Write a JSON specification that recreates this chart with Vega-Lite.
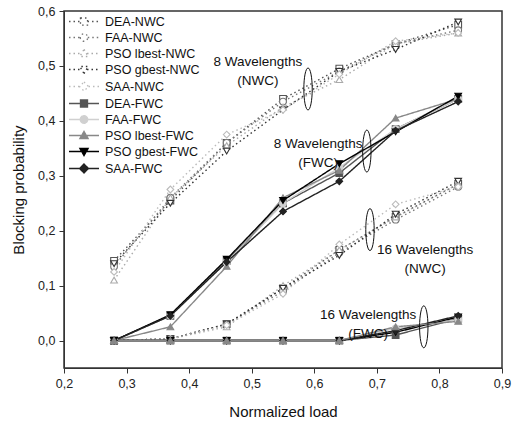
{
  "$schema": "https://vega.github.io/schema/vega-lite/v6.json",
  "width": 438,
  "height": 357,
  "autosize": {"type": "none"},
  "padding": {"left": 64, "top": 11, "right": 10, "bottom": 56},
  "background": "white",
  "config": {
    "font": "Liberation Sans",
    "view": {"stroke": "#333", "strokeWidth": 1.5},
    "axis": {
      "grid": false,
      "tickSize": 5,
      "tickColor": "#333",
      "domainColor": "#333",
      "labelFontSize": 12.5,
      "labelColor": "#222",
      "titleFontSize": 15,
      "titleFontWeight": "normal",
      "titleColor": "#111",
      "labelFlush": false,
      "labelOverlap": false
    },
    "legend": {
      "orient": "none",
      "legendX": 11.5,
      "legendY": 2,
      "padding": 0,
      "symbolSize": 225,
      "symbolStrokeWidth": 1.3,
      "labelFontSize": 12.5,
      "labelColor": "#111",
      "labelOffset": 12.5,
      "rowPadding": 1,
      "title": null
    }
  },
  "resolve": {"scale": {"shape": "independent", "stroke": "independent", "fill": "independent", "strokeDash": "independent"}},
  "data": {
    "values": [
      {"s": "DEA-NWC", "g": "8", "x": 0.28, "y": 0.145},
      {"s": "DEA-NWC", "g": "8", "x": 0.37, "y": 0.255},
      {"s": "DEA-NWC", "g": "8", "x": 0.46, "y": 0.36},
      {"s": "DEA-NWC", "g": "8", "x": 0.55, "y": 0.44},
      {"s": "DEA-NWC", "g": "8", "x": 0.64, "y": 0.495},
      {"s": "DEA-NWC", "g": "8", "x": 0.73, "y": 0.54},
      {"s": "DEA-NWC", "g": "8", "x": 0.83, "y": 0.575},
      {"s": "FAA-NWC", "g": "8", "x": 0.28, "y": 0.135},
      {"s": "FAA-NWC", "g": "8", "x": 0.37, "y": 0.26},
      {"s": "FAA-NWC", "g": "8", "x": 0.46, "y": 0.36},
      {"s": "FAA-NWC", "g": "8", "x": 0.55, "y": 0.435},
      {"s": "FAA-NWC", "g": "8", "x": 0.64, "y": 0.49},
      {"s": "FAA-NWC", "g": "8", "x": 0.73, "y": 0.54},
      {"s": "FAA-NWC", "g": "8", "x": 0.83, "y": 0.565},
      {"s": "PSO lbest-NWC", "g": "8", "x": 0.28, "y": 0.11},
      {"s": "PSO lbest-NWC", "g": "8", "x": 0.37, "y": 0.26},
      {"s": "PSO lbest-NWC", "g": "8", "x": 0.46, "y": 0.355},
      {"s": "PSO lbest-NWC", "g": "8", "x": 0.55, "y": 0.425},
      {"s": "PSO lbest-NWC", "g": "8", "x": 0.64, "y": 0.475},
      {"s": "PSO lbest-NWC", "g": "8", "x": 0.73, "y": 0.54},
      {"s": "PSO lbest-NWC", "g": "8", "x": 0.83, "y": 0.56},
      {"s": "PSO gbest-NWC", "g": "8", "x": 0.28, "y": 0.14},
      {"s": "PSO gbest-NWC", "g": "8", "x": 0.37, "y": 0.25},
      {"s": "PSO gbest-NWC", "g": "8", "x": 0.46, "y": 0.345},
      {"s": "PSO gbest-NWC", "g": "8", "x": 0.55, "y": 0.42},
      {"s": "PSO gbest-NWC", "g": "8", "x": 0.64, "y": 0.49},
      {"s": "PSO gbest-NWC", "g": "8", "x": 0.73, "y": 0.53},
      {"s": "PSO gbest-NWC", "g": "8", "x": 0.83, "y": 0.58},
      {"s": "SAA-NWC", "g": "8", "x": 0.28, "y": 0.125},
      {"s": "SAA-NWC", "g": "8", "x": 0.37, "y": 0.275},
      {"s": "SAA-NWC", "g": "8", "x": 0.46, "y": 0.375},
      {"s": "SAA-NWC", "g": "8", "x": 0.55, "y": 0.42},
      {"s": "SAA-NWC", "g": "8", "x": 0.64, "y": 0.485},
      {"s": "SAA-NWC", "g": "8", "x": 0.73, "y": 0.545},
      {"s": "SAA-NWC", "g": "8", "x": 0.83, "y": 0.56},
      {"s": "DEA-NWC", "g": "16", "x": 0.28, "y": 0.0},
      {"s": "DEA-NWC", "g": "16", "x": 0.37, "y": 0.003},
      {"s": "DEA-NWC", "g": "16", "x": 0.46, "y": 0.03},
      {"s": "DEA-NWC", "g": "16", "x": 0.55, "y": 0.095},
      {"s": "DEA-NWC", "g": "16", "x": 0.64, "y": 0.165},
      {"s": "DEA-NWC", "g": "16", "x": 0.73, "y": 0.225},
      {"s": "DEA-NWC", "g": "16", "x": 0.83, "y": 0.285},
      {"s": "FAA-NWC", "g": "16", "x": 0.28, "y": 0.0},
      {"s": "FAA-NWC", "g": "16", "x": 0.37, "y": 0.003},
      {"s": "FAA-NWC", "g": "16", "x": 0.46, "y": 0.03},
      {"s": "FAA-NWC", "g": "16", "x": 0.55, "y": 0.09},
      {"s": "FAA-NWC", "g": "16", "x": 0.64, "y": 0.16},
      {"s": "FAA-NWC", "g": "16", "x": 0.73, "y": 0.22},
      {"s": "FAA-NWC", "g": "16", "x": 0.83, "y": 0.28},
      {"s": "PSO lbest-NWC", "g": "16", "x": 0.28, "y": 0.0},
      {"s": "PSO lbest-NWC", "g": "16", "x": 0.37, "y": 0.003},
      {"s": "PSO lbest-NWC", "g": "16", "x": 0.46, "y": 0.025},
      {"s": "PSO lbest-NWC", "g": "16", "x": 0.55, "y": 0.1},
      {"s": "PSO lbest-NWC", "g": "16", "x": 0.64, "y": 0.165},
      {"s": "PSO lbest-NWC", "g": "16", "x": 0.73, "y": 0.225},
      {"s": "PSO lbest-NWC", "g": "16", "x": 0.83, "y": 0.285},
      {"s": "PSO gbest-NWC", "g": "16", "x": 0.28, "y": 0.0},
      {"s": "PSO gbest-NWC", "g": "16", "x": 0.37, "y": 0.003},
      {"s": "PSO gbest-NWC", "g": "16", "x": 0.46, "y": 0.03},
      {"s": "PSO gbest-NWC", "g": "16", "x": 0.55, "y": 0.095},
      {"s": "PSO gbest-NWC", "g": "16", "x": 0.64, "y": 0.155},
      {"s": "PSO gbest-NWC", "g": "16", "x": 0.73, "y": 0.23},
      {"s": "PSO gbest-NWC", "g": "16", "x": 0.83, "y": 0.29},
      {"s": "SAA-NWC", "g": "16", "x": 0.28, "y": 0.0},
      {"s": "SAA-NWC", "g": "16", "x": 0.37, "y": 0.003},
      {"s": "SAA-NWC", "g": "16", "x": 0.46, "y": 0.028},
      {"s": "SAA-NWC", "g": "16", "x": 0.55, "y": 0.085},
      {"s": "SAA-NWC", "g": "16", "x": 0.64, "y": 0.175},
      {"s": "SAA-NWC", "g": "16", "x": 0.73, "y": 0.248},
      {"s": "SAA-NWC", "g": "16", "x": 0.83, "y": 0.28},
      {"s": "DEA-FWC", "g": "8", "x": 0.28, "y": 0.0},
      {"s": "DEA-FWC", "g": "8", "x": 0.37, "y": 0.045},
      {"s": "DEA-FWC", "g": "8", "x": 0.46, "y": 0.145},
      {"s": "DEA-FWC", "g": "8", "x": 0.55, "y": 0.25},
      {"s": "DEA-FWC", "g": "8", "x": 0.64, "y": 0.305},
      {"s": "DEA-FWC", "g": "8", "x": 0.73, "y": 0.385},
      {"s": "DEA-FWC", "g": "8", "x": 0.83, "y": 0.44},
      {"s": "FAA-FWC", "g": "8", "x": 0.28, "y": 0.0},
      {"s": "FAA-FWC", "g": "8", "x": 0.37, "y": 0.045},
      {"s": "FAA-FWC", "g": "8", "x": 0.46, "y": 0.143},
      {"s": "FAA-FWC", "g": "8", "x": 0.55, "y": 0.25},
      {"s": "FAA-FWC", "g": "8", "x": 0.64, "y": 0.315},
      {"s": "FAA-FWC", "g": "8", "x": 0.73, "y": 0.385},
      {"s": "FAA-FWC", "g": "8", "x": 0.83, "y": 0.44},
      {"s": "PSO lbest-FWC", "g": "8", "x": 0.28, "y": 0.0},
      {"s": "PSO lbest-FWC", "g": "8", "x": 0.37, "y": 0.025},
      {"s": "PSO lbest-FWC", "g": "8", "x": 0.46, "y": 0.135},
      {"s": "PSO lbest-FWC", "g": "8", "x": 0.55, "y": 0.26},
      {"s": "PSO lbest-FWC", "g": "8", "x": 0.64, "y": 0.31},
      {"s": "PSO lbest-FWC", "g": "8", "x": 0.73, "y": 0.405},
      {"s": "PSO lbest-FWC", "g": "8", "x": 0.83, "y": 0.44},
      {"s": "PSO gbest-FWC", "g": "8", "x": 0.28, "y": 0.0},
      {"s": "PSO gbest-FWC", "g": "8", "x": 0.37, "y": 0.047},
      {"s": "PSO gbest-FWC", "g": "8", "x": 0.46, "y": 0.148},
      {"s": "PSO gbest-FWC", "g": "8", "x": 0.55, "y": 0.255},
      {"s": "PSO gbest-FWC", "g": "8", "x": 0.64, "y": 0.322},
      {"s": "PSO gbest-FWC", "g": "8", "x": 0.73, "y": 0.38},
      {"s": "PSO gbest-FWC", "g": "8", "x": 0.83, "y": 0.445},
      {"s": "SAA-FWC", "g": "8", "x": 0.28, "y": 0.0},
      {"s": "SAA-FWC", "g": "8", "x": 0.37, "y": 0.045},
      {"s": "SAA-FWC", "g": "8", "x": 0.46, "y": 0.143},
      {"s": "SAA-FWC", "g": "8", "x": 0.55, "y": 0.235},
      {"s": "SAA-FWC", "g": "8", "x": 0.64, "y": 0.29},
      {"s": "SAA-FWC", "g": "8", "x": 0.73, "y": 0.382},
      {"s": "SAA-FWC", "g": "8", "x": 0.83, "y": 0.435},
      {"s": "DEA-FWC", "g": "16", "x": 0.28, "y": 0.0},
      {"s": "DEA-FWC", "g": "16", "x": 0.37, "y": 0.0},
      {"s": "DEA-FWC", "g": "16", "x": 0.46, "y": 0.0},
      {"s": "DEA-FWC", "g": "16", "x": 0.55, "y": 0.0},
      {"s": "DEA-FWC", "g": "16", "x": 0.64, "y": 0.0},
      {"s": "DEA-FWC", "g": "16", "x": 0.73, "y": 0.01},
      {"s": "DEA-FWC", "g": "16", "x": 0.83, "y": 0.04},
      {"s": "FAA-FWC", "g": "16", "x": 0.28, "y": 0.0},
      {"s": "FAA-FWC", "g": "16", "x": 0.37, "y": 0.0},
      {"s": "FAA-FWC", "g": "16", "x": 0.46, "y": 0.0},
      {"s": "FAA-FWC", "g": "16", "x": 0.55, "y": 0.0},
      {"s": "FAA-FWC", "g": "16", "x": 0.64, "y": 0.0},
      {"s": "FAA-FWC", "g": "16", "x": 0.73, "y": 0.022},
      {"s": "FAA-FWC", "g": "16", "x": 0.83, "y": 0.038},
      {"s": "PSO gbest-FWC", "g": "16", "x": 0.28, "y": 0.0},
      {"s": "PSO gbest-FWC", "g": "16", "x": 0.37, "y": 0.0},
      {"s": "PSO gbest-FWC", "g": "16", "x": 0.46, "y": 0.0},
      {"s": "PSO gbest-FWC", "g": "16", "x": 0.55, "y": 0.0},
      {"s": "PSO gbest-FWC", "g": "16", "x": 0.64, "y": 0.0},
      {"s": "PSO gbest-FWC", "g": "16", "x": 0.73, "y": 0.015},
      {"s": "PSO gbest-FWC", "g": "16", "x": 0.83, "y": 0.043},
      {"s": "SAA-FWC", "g": "16", "x": 0.28, "y": 0.0},
      {"s": "SAA-FWC", "g": "16", "x": 0.37, "y": 0.0},
      {"s": "SAA-FWC", "g": "16", "x": 0.46, "y": 0.0},
      {"s": "SAA-FWC", "g": "16", "x": 0.55, "y": 0.0},
      {"s": "SAA-FWC", "g": "16", "x": 0.64, "y": 0.0},
      {"s": "SAA-FWC", "g": "16", "x": 0.73, "y": 0.018},
      {"s": "SAA-FWC", "g": "16", "x": 0.83, "y": 0.045},
      {"s": "PSO lbest-FWC", "g": "16", "x": 0.28, "y": 0.0},
      {"s": "PSO lbest-FWC", "g": "16", "x": 0.37, "y": 0.0},
      {"s": "PSO lbest-FWC", "g": "16", "x": 0.46, "y": 0.0},
      {"s": "PSO lbest-FWC", "g": "16", "x": 0.55, "y": 0.0},
      {"s": "PSO lbest-FWC", "g": "16", "x": 0.64, "y": 0.0},
      {"s": "PSO lbest-FWC", "g": "16", "x": 0.73, "y": 0.025},
      {"s": "PSO lbest-FWC", "g": "16", "x": 0.83, "y": 0.035}
    ]
  },
  "layer": [
    {
      "mark": {"type": "line", "strokeWidth": 1.4},
      "encoding": {
        "x": {
          "field": "x", "type": "quantitative",
          "scale": {"domain": [0.2, 0.9], "nice": false, "zero": false},
          "axis": {
            "title": "Normalized load",
            "values": [0.2, 0.25, 0.3, 0.35, 0.4, 0.45, 0.5, 0.55, 0.6, 0.65, 0.7, 0.75, 0.8, 0.85, 0.9],
            "labelExpr": "round(datum.value*100) % 10 == 0 ? replace(format(datum.value, '.1f'), '.', ',') : ''",
            "labelPadding": 4,
            "titlePadding": 15
          }
        },
        "y": {
          "field": "y", "type": "quantitative",
          "scale": {"domain": [-0.05, 0.6], "nice": false, "zero": false},
          "axis": {
            "title": "Blocking probability",
            "values": [0, 0.05, 0.1, 0.15, 0.2, 0.25, 0.3, 0.35, 0.4, 0.45, 0.5, 0.55, 0.6],
            "labelExpr": "round(datum.value*100) % 10 == 0 ? replace(format(datum.value, '.1f'), '.', ',') : ''",
            "labelPadding": 4,
            "titlePadding": 11
          }
        },
        "stroke": {
          "field": "s", "type": "nominal", "legend": null,
          "scale": {
            "domain": ["DEA-NWC", "FAA-NWC", "PSO lbest-NWC", "PSO gbest-NWC", "SAA-NWC", "DEA-FWC", "FAA-FWC", "PSO lbest-FWC", "PSO gbest-FWC", "SAA-FWC"],
            "range": ["#555555", "#777777", "#aaaaaa", "#333333", "#bbbbbb", "#555555", "#d0d0d0", "#888888", "#000000", "#222222"]
          }
        },
        "strokeDash": {
          "field": "s", "type": "nominal", "legend": null,
          "scale": {
            "domain": ["DEA-NWC", "FAA-NWC", "PSO lbest-NWC", "PSO gbest-NWC", "SAA-NWC", "DEA-FWC", "FAA-FWC", "PSO lbest-FWC", "PSO gbest-FWC", "SAA-FWC"],
            "range": [[1.5, 3], [1.5, 3], [1.5, 3], [1.5, 3], [1.5, 3], [1, 0], [1, 0], [1, 0], [1, 0], [1, 0]]
          }
        },
        "detail": {"field": "g", "type": "nominal"}
      }
    },
    {
      "mark": {"type": "point", "size": 45, "strokeWidth": 1.1, "opacity": 1},
      "encoding": {
        "x": {"field": "x", "type": "quantitative"},
        "y": {"field": "y", "type": "quantitative"},
        "stroke": {
          "field": "s", "type": "nominal", "legend": null,
          "scale": {
            "domain": ["DEA-NWC", "FAA-NWC", "PSO lbest-NWC", "PSO gbest-NWC", "SAA-NWC", "DEA-FWC", "FAA-FWC", "PSO lbest-FWC", "PSO gbest-FWC", "SAA-FWC"],
            "range": ["#555555", "#777777", "#aaaaaa", "#333333", "#bbbbbb", "#555555", "#d0d0d0", "#888888", "#000000", "#222222"]
          }
        },
        "fill": {
          "field": "s", "type": "nominal", "legend": null,
          "scale": {
            "domain": ["DEA-NWC", "FAA-NWC", "PSO lbest-NWC", "PSO gbest-NWC", "SAA-NWC", "DEA-FWC", "FAA-FWC", "PSO lbest-FWC", "PSO gbest-FWC", "SAA-FWC"],
            "range": ["#ffffff", "#ffffff", "#ffffff", "#ffffff", "#ffffff", "#555555", "#d0d0d0", "#888888", "#000000", "#222222"]
          }
        },
        "shape": {
          "field": "s", "type": "nominal", "legend": null,
          "scale": {
            "domain": ["DEA-NWC", "FAA-NWC", "PSO lbest-NWC", "PSO gbest-NWC", "SAA-NWC", "DEA-FWC", "FAA-FWC", "PSO lbest-FWC", "PSO gbest-FWC", "SAA-FWC"],
            "range": ["square", "circle", "triangle-up", "triangle-down", "diamond", "square", "circle", "triangle-up", "triangle-down", "diamond"]
          }
        }
      }
    },
    {
      "transform": [{"filter": "datum.g == 'none'"}],
      "mark": {"type": "point", "size": 45, "strokeWidth": 1.1, "opacity": 1},
      "encoding": {
        "x": {"field": "x", "type": "quantitative"},
        "y": {"field": "y", "type": "quantitative"},
        "stroke": {
          "field": "s", "type": "nominal",
          "scale": {
            "domain": ["DEA-NWC", "FAA-NWC", "PSO lbest-NWC", "PSO gbest-NWC", "SAA-NWC", "DEA-FWC", "FAA-FWC", "PSO lbest-FWC", "PSO gbest-FWC", "SAA-FWC"],
            "range": ["#555555", "#777777", "#aaaaaa", "#333333", "#bbbbbb", "#555555", "#d0d0d0", "#888888", "#000000", "#222222"]
          }
        },
        "fill": {
          "field": "s", "type": "nominal",
          "scale": {
            "domain": ["DEA-NWC", "FAA-NWC", "PSO lbest-NWC", "PSO gbest-NWC", "SAA-NWC", "DEA-FWC", "FAA-FWC", "PSO lbest-FWC", "PSO gbest-FWC", "SAA-FWC"],
            "range": ["#ffffff", "#ffffff", "#ffffff", "#ffffff", "#ffffff", "#555555", "#d0d0d0", "#888888", "#000000", "#222222"]
          }
        },
        "strokeDash": {
          "field": "s", "type": "nominal",
          "scale": {
            "domain": ["DEA-NWC", "FAA-NWC", "PSO lbest-NWC", "PSO gbest-NWC", "SAA-NWC", "DEA-FWC", "FAA-FWC", "PSO lbest-FWC", "PSO gbest-FWC", "SAA-FWC"],
            "range": [[1.5, 3], [1.5, 3], [1.5, 3], [1.5, 3], [1.5, 3], [1, 0], [1, 0], [1, 0], [1, 0], [1, 0]]
          }
        },
        "shape": {
          "field": "s", "type": "nominal",
          "scale": {
            "domain": ["DEA-NWC", "FAA-NWC", "PSO lbest-NWC", "PSO gbest-NWC", "SAA-NWC", "DEA-FWC", "FAA-FWC", "PSO lbest-FWC", "PSO gbest-FWC", "SAA-FWC"],
            "range": [
              "M-2,0H-0.47M0.47,0H2M-0.47,-0.47H0.47V0.47H-0.47Z",
              "M-2,0H-0.5M0.5,0H2M-0.5,0A0.5,0.5 0 1,0 0.5,0A0.5,0.5 0 1,0 -0.5,0Z",
              "M-2,0H-0.4M0.4,0H2M0,-0.55L0.55,0.4H-0.55Z",
              "M-2,0H-0.4M0.4,0H2M0,0.55L0.55,-0.4H-0.55Z",
              "M-2,0H-0.6M0.6,0H2M0,-0.6L0.6,0L0,0.6L-0.6,0Z",
              "M-2,0H-0.47M0.47,0H2M-0.47,-0.47H0.47V0.47H-0.47Z",
              "M-2,0H-0.5M0.5,0H2M-0.5,0A0.5,0.5 0 1,0 0.5,0A0.5,0.5 0 1,0 -0.5,0Z",
              "M-2,0H-0.4M0.4,0H2M0,-0.55L0.55,0.4H-0.55Z",
              "M-2,0H-0.4M0.4,0H2M0,0.55L0.55,-0.4H-0.55Z",
              "M-2,0H-0.6M0.6,0H2M0,-0.6L0.6,0L0,0.6L-0.6,0Z"
            ]
          }
        }
      }
    },
    {
      "data": {
        "values": [
          {"x": 0.590, "y": 0.458},
          {"x": 0.684, "y": 0.345},
          {"x": 0.689, "y": 0.202},
          {"x": 0.775, "y": 0.025}
        ]
      },
      "mark": {"type": "point", "shape": "M0,-1A0.2,1 0 1,1 0,1A0.2,1 0 1,1 0,-1Z", "size": 1764, "stroke": "#111", "strokeWidth": 1, "filled": false, "opacity": 1},
      "encoding": {
        "x": {"field": "x", "type": "quantitative"},
        "y": {"field": "y", "type": "quantitative"}
      }
    },
    {
      "data": {
        "values": [
          {"x": 0.510, "y": 0.507, "t": "8 Wavelengths\n(NWC)"},
          {"x": 0.606, "y": 0.358, "t": "8 Wavelengths\n(FWC)"},
          {"x": 0.777, "y": 0.164, "t": "16 Wavelengths\n(NWC)"},
          {"x": 0.686, "y": 0.047, "t": "16 Wavelengths\n(FWC)"}
        ]
      },
      "mark": {"type": "text", "lineBreak": "\n", "fontSize": 13.5, "lineHeight": 19, "color": "#111", "align": "center", "baseline": "middle"},
      "encoding": {
        "x": {"field": "x", "type": "quantitative"},
        "y": {"field": "y", "type": "quantitative"},
        "text": {"field": "t", "type": "nominal"}
      }
    }
  ]
}
